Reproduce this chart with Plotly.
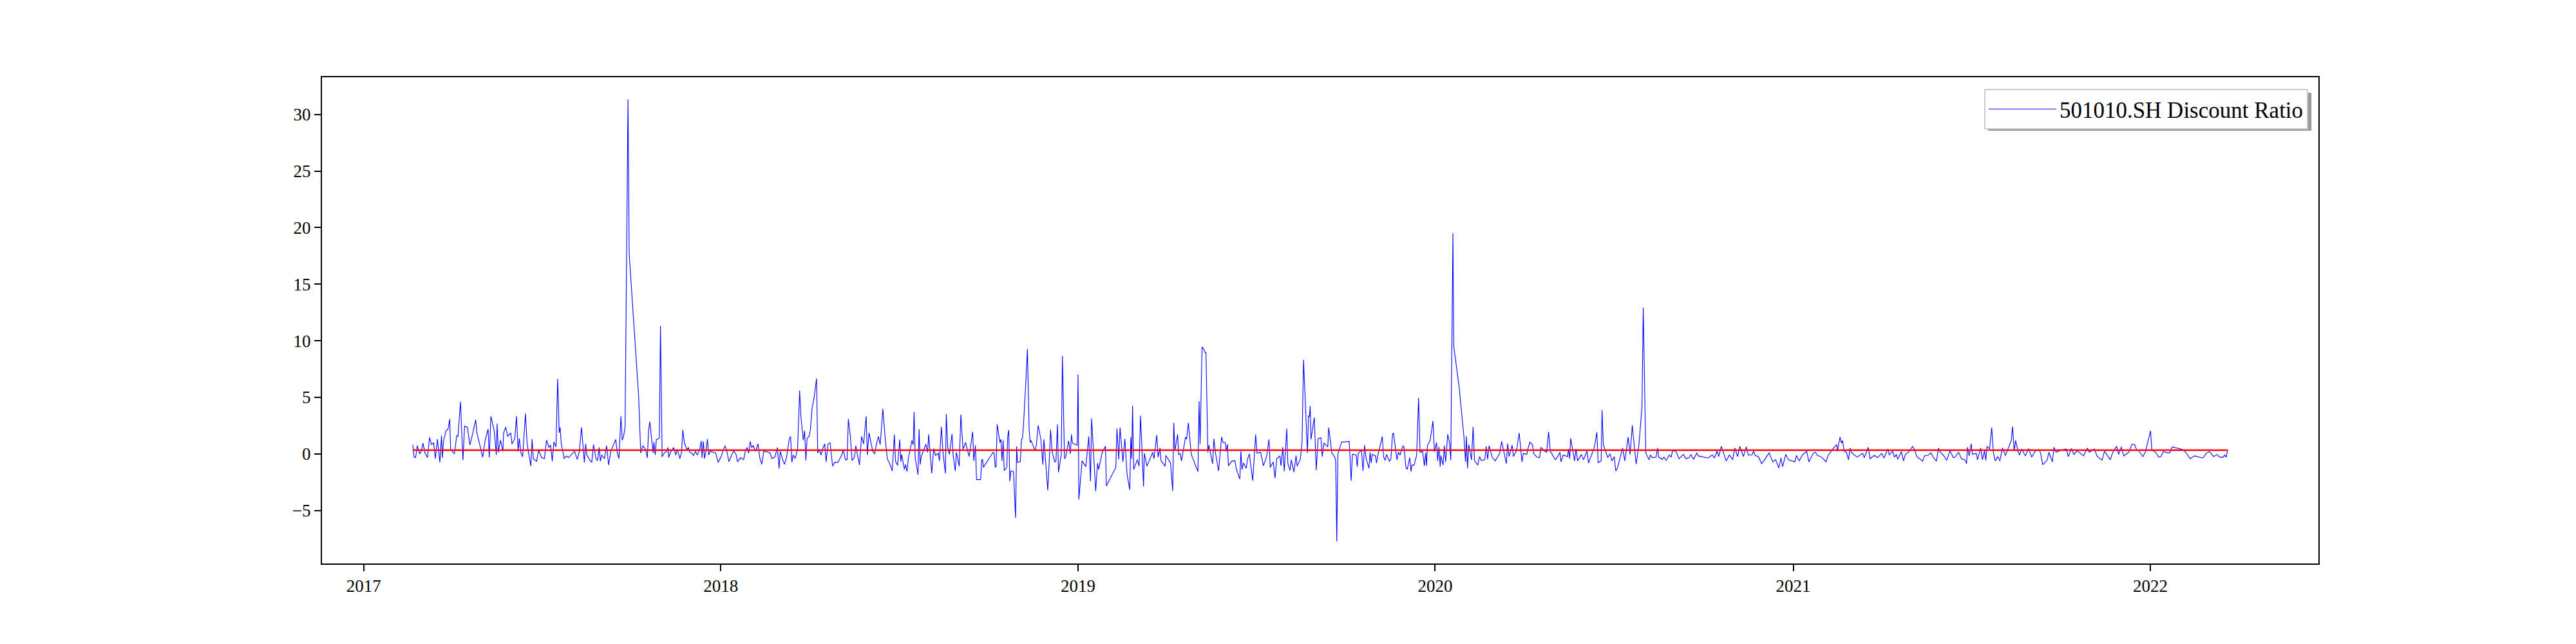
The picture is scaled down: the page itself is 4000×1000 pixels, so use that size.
import pandas as pd
import plotly.graph_objects as go

# 501010.SH discount ratio
# each point is (calendar days since 2017-01-01, ratio)
points_2017 = [
    (50.1, 0.82), (51.3, -0.26), (53.0, -0.33), (54.7, 0.72), (57.2, 0.0), (58.9, 0.23), (60.6, 0.95), (62.7, 0.07), (65.2, -0.33), (67.3, 1.44),
    (69.4, 0.82), (71.5, 0.98), (73.2, -0.42), (75.3, 1.31), (77.8, -0.75), (79.5, 1.60), (80.4, -0.36), (81.6, 1.14), (84.1, 2.03), (86.2, 2.19),
    (87.9, 3.07), (88.8, 0.39), (92.6, 0.0), (95.1, 1.63), (96.3, 1.54), (98.9, 4.61), (101.4, -0.56), (103.1, 2.45), (106.0, 2.35), (108.5, 0.78),
    (111.1, 1.70), (114.4, 3.01), (115.7, 1.86), (117.8, 1.05), (121.6, -0.29), (124.1, 1.21), (127.1, 2.19), (128.3, -0.33), (130.0, 3.33), (133.4, 2.03),
    (135.5, -0.10), (136.3, 2.67), (137.6, 0.13), (139.7, 1.21), (142.2, 0.23), (143.0, 1.86), (145.1, 2.35), (147.2, 1.54), (150.2, 1.86), (151.5, 0.88),
    (154.4, 1.37), (156.1, 3.33), (157.8, 0.23), (159.0, 1.37), (160.7, 0.07), (162.4, -0.26), (165.3, 3.56), (167.0, 0.88), (169.5, -0.42), (170.8, -1.08),
    (172.1, 1.31), (173.3, -0.42), (176.7, -0.65), (178.8, 0.33), (181.7, -0.33), (184.7, -0.42), (186.8, 1.21), (189.3, 0.56), (191.0, 0.78), (192.7, -0.65),
    (194.4, 1.05), (196.5, 0.62), (198.2, 6.63), (199.8, 1.86), (200.7, 2.35), (201.9, 0.88), (204.9, -0.42), (207.0, -0.20), (209.5, -0.33), (212.5, -0.03),
    (215.4, 0.23), (218.3, -0.49), (220.4, 0.23), (222.6, 2.35), (223.8, 0.88), (225.5, -0.75), (226.8, 0.88), (228.0, -0.10), (231.4, -0.59), (233.1, -0.75),
    (234.8, 0.82), (237.3, -0.42), (239.0, -0.59), (240.6, 0.56), (241.9, -0.65), (243.2, -0.10), (246.1, -0.42), (248.2, 0.72), (250.3, -0.98), (252.5, 0.23),
    (254.1, 0.56), (255.8, 0.88), (257.5, 1.27), (259.2, 0.07), (260.8, -0.42), (262.9, 3.33), (264.2, 1.21), (265.5, 1.54), (267.1, 2.35), (270.1, 31.34),
    (271.3, 17.71), (281.0, 5.06), (283.1, 0.07), (285.2, 0.72), (288.2, 0.39), (289.9, -0.36), (291.1, 2.03), (292.4, 2.84), (294.5, 1.21), (295.8, 0.07),
    (296.6, 1.05), (297.9, -0.10), (299.1, 1.27), (302.1, 1.37), (303.3, 11.31), (305.0, -0.26), (307.1, 0.07), (309.6, 0.23), (310.9, 0.56), (311.7, -0.33),
    (313.4, 0.13), (316.8, 0.56), (318.9, -0.10), (320.6, 0.39), (323.1, -0.42), (324.8, 0.13), (326.1, 2.12), (327.7, 0.98), (330.3, 0.39), (332.0, 0.56),
    (333.2, 0.13), (335.3, 0.07), (337.0, -0.16), (339.1, 0.23), (340.8, -0.10), (343.3, 0.33), (345.0, 1.14), (345.8, -0.36), (347.1, 1.11), (348.3, -0.42),
    (350.0, 0.39), (351.3, 1.31), (352.5, -0.10), (354.2, 0.23), (357.6, 0.13), (359.7, 0.07), (362.2, -0.75),
]

points_2018 = [
    (365.2, -0.26), (367.7, 0.39), (369.4, 0.72), (371.1, 0.23), (373.2, -0.69), (375.3, -0.26), (378.2, 0.29), (380.7, -0.10), (382.0, -0.69), (385.4, -0.33),
    (388.3, -0.52), (390.0, 0.23), (391.7, 0.56), (393.4, 0.07), (395.0, 1.11), (396.3, 0.56), (398.0, 0.72), (400.5, 0.23), (403.0, 0.88), (404.7, -0.33),
    (406.8, -0.92), (408.9, 0.23), (413.1, 0.16), (415.2, 0.07), (417.3, -0.42), (420.3, -0.26), (422.8, 0.56), (424.5, -1.31), (425.7, 0.23), (427.8, -0.42),
    (430.0, -0.92), (432.1, -0.33), (435.0, 1.37), (436.3, 1.54), (437.6, -0.75), (438.8, -0.10), (440.9, -0.42), (443.4, 0.39), (445.5, 5.59), (446.8, 3.30),
    (449.3, 1.21), (450.6, 2.03), (451.9, -0.59), (453.1, 1.37), (455.2, 1.54), (456.5, 2.12), (458.2, 3.99), (460.3, 4.97), (462.8, 6.66), (464.0, 0.07),
    (465.7, 0.39), (467.4, -0.10), (469.5, 0.56), (471.2, 0.88), (472.5, -0.69), (474.6, 0.88), (476.7, 0.98), (479.2, -1.08), (481.3, -0.75), (484.7, -0.75),
    (486.8, -0.42), (488.5, -0.10), (490.2, 0.33), (492.3, -0.52), (494.0, -0.52), (495.3, 3.07), (497.4, 1.54), (499.1, -0.59), (501.6, -0.26), (502.9, 0.72),
    (505.0, -0.26), (506.7, -0.98), (508.8, 1.54), (510.9, 0.88), (513.5, 3.33), (514.7, -0.10), (516.4, 1.86), (518.5, 1.05), (520.2, 0.23), (522.3, 0.0),
    (524.0, 0.88), (526.1, 1.54), (527.8, 0.82), (529.1, 2.19), (530.5, 3.99), (533.0, 1.37), (535.1, -0.42), (538.1, -0.98), (540.2, -1.50), (542.3, 1.70),
    (543.6, -0.69), (545.7, -1.01), (547.8, 1.27), (549.0, -0.69), (549.8, -0.05), (552.6, -1.38), (553.7, -0.94), (555.3, -1.57), (556.6, -0.42), (560.3, 1.19),
    (561.6, 0.81), (562.5, 3.70), (563.6, -0.33), (566.5, -1.85), (567.6, 2.18), (568.7, -0.94), (569.8, -0.24), (574.6, 0.85), (576.3, 0.14), (577.4, 1.72),
    (580.5, -1.72), (582.5, 0.47), (584.4, -0.14), (587.3, 0.05), (588.4, -0.62), (590.4, 2.39), (592.1, 0.05), (594.5, -1.72), (595.4, 3.51), (596.9, 0.58),
    (598.5, -0.05), (601.3, 1.76), (602.4, -0.14), (604.6, -1.51), (605.7, 0.14), (608.6, -1.09), (610.3, 3.47), (612.5, 0.43), (615.1, 1.00), (618.7, -0.24),
    (622.4, 1.95), (623.5, -0.62), (625.2, 0.75), (626.3, -2.27), (630.5, -2.27), (631.6, -0.56), (632.5, -0.48), (633.3, -1.19), (643.2, 0.14), (644.3, 0.05),
    (645.4, -1.19), (646.3, -1.13), (647.4, 2.61), (650.2, 1.00), (651.3, 1.28), (652.4, -0.62), (653.5, 1.19), (654.6, -1.47), (657.3, -1.19), (658.1, 1.48),
    (659.2, 2.10), (660.3, -2.42), (661.4, -1.51), (664.1, -1.57), (666.2, -5.65), (667.3, 0.66), (668.2, -0.75), (671.1, -0.67), (672.2, 1.28), (673.3, 1.38),
    (674.4, 2.71), (676.6, 6.13), (678.3, 9.26), (680.1, 2.14), (681.2, 1.00), (682.0, 1.19), (686.0, 0.29), (687.5, 0.81), (689.3, 2.52), (692.1, 1.28),
    (694.1, -0.94), (695.2, 1.28), (699.1, -3.22), (700.7, -0.52), (702.0, 2.14), (703.5, 0.24), (706.2, -0.71), (707.5, -0.62), (709.0, 2.61), (710.1, -1.62),
    (712.9, -0.05), (714.1, 8.66), (716.2, -0.42), (717.3, -0.33), (720.4, 1.15), (722.2, 0.01), (723.3, 1.70), (724.4, 0.94), (729.2, 0.77),
]

points_2019 = [
    (730.1, 7.02), (730.9, -4.04), (734.2, -0.62), (735.8, -0.86), (738.0, -1.13), (741.0, 1.53), (742.8, -2.42), (743.9, 3.13), (748.1, -3.30), (750.0, -0.81),
    (751.1, -1.38), (754.8, 0.14), (758.1, 0.67), (759.0, -2.84), (768.7, -1.19), (769.8, 2.24), (771.7, -0.47), (773.0, 2.33), (775.9, -0.71), (777.9, 1.34),
    (780.1, -1.76), (782.9, -3.18), (784.0, 1.48), (784.9, -0.43), (785.8, 4.27), (786.9, -1.38), (790.6, -0.52), (792.4, -1.09), (793.9, 3.37), (797.0, -2.89),
    (797.8, 0.05), (800.5, -1.09), (805.1, -0.14), (806.4, 0.14), (807.7, -0.43), (810.5, 1.66), (811.9, -0.29), (813.8, 0.52), (814.9, -0.62), (819.1, -1.09),
    (819.8, -0.14), (824.6, -0.81), (826.8, -3.27), (827.9, 2.75), (829.0, 0.28), (831.8, 1.72), (832.9, -0.05), (834.5, 0.01), (835.8, -0.62), (839.9, 1.48),
    (841.0, 1.29), (842.8, 2.75), (845.8, -0.05), (852.6, -1.57), (853.8, 4.66), (854.8, 0.87), (856.8, 9.45), (858.6, 9.26), (859.7, 8.97), (860.8, 8.97),
    (862.7, 0.14), (863.8, 0.77), (867.6, -0.87), (868.9, 1.34), (870.4, 0.14), (873.7, -1.51), (876.8, 1.48), (878.3, 1.00), (880.5, 1.00), (881.6, 0.20),
    (882.7, 0.85), (883.8, -1.05), (887.5, -0.62), (890.4, -0.62), (891.9, -1.38), (895.4, -2.23), (896.5, 0.24), (897.6, -1.38), (899.1, -0.81), (902.0, -1.28),
    (903.1, -0.52), (905.1, 0.01), (908.6, -2.38), (911.6, 1.70), (913.0, 0.05), (916.7, 0.14), (919.5, -1.05), (922.8, -0.24), (925.2, 1.28), (926.5, -1.19),
    (929.6, -0.71), (931.4, -2.14), (933.1, -0.43), (936.4, -0.18), (937.5, -1.05), (939.3, 0.58), (940.8, -1.53), (943.4, 2.23), (944.5, -0.87), (946.7, -1.47),
    (948.0, -0.52), (950.7, -1.62), (952.9, -0.14), (954.0, -1.09), (957.2, -0.48), (959.0, 1.00), (960.5, 8.31), (964.5, 0.09), (965.6, 3.37), (966.5, 3.28),
    (967.3, 4.23), (968.2, 1.28), (971.5, 3.22), (973.5, -1.43), (975.4, 1.34), (978.3, 1.42), (979.6, -0.24), (981.4, 0.96), (985.3, 0.62), (986.2, 2.33),
    (989.5, 0.05), (992.3, -0.24), (993.4, -0.67), (994.5, -7.74), (995.6, -0.04), (999.4, 1.04), (1007.2, 1.10), (1009.2, -2.38), (1010.5, -0.04), (1014.3, -0.10),
    (1015.4, -1.13), (1016.5, 0.05), (1019.7, 0.34), (1021.3, -1.51), (1023.0, 0.77), (1024.4, -0.37), (1027.4, -1.28), (1028.5, 0.14), (1029.6, -0.81), (1030.7, -0.05),
    (1034.0, -0.18), (1035.1, -0.81), (1036.2, -0.24), (1041.0, 1.53), (1042.3, -0.24), (1043.9, -0.58), (1045.4, -0.05), (1048.3, -0.67), (1049.8, -0.46), (1051.5, 1.76),
    (1052.4, 1.85), (1056.0, -0.52), (1057.5, 0.14), (1059.2, -0.10), (1062.1, 0.72), (1063.2, 0.58), (1065.1, -1.19), (1066.5, -1.38), (1069.1, -0.33), (1070.4, -1.57),
    (1071.3, -0.99), (1073.5, -0.99), (1076.1, -0.14), (1078.1, 4.95), (1079.6, 0.14), (1082.2, 0.24), (1084.0, -1.05), (1085.3, 0.09), (1086.2, -1.05), (1087.1, 0.72),
    (1089.9, 1.19), (1092.8, 2.90), (1094.3, 0.20),
]

points_2020 = [
    (1096.5, 1.00), (1097.6, -0.62), (1098.9, 0.62), (1100.2, -1.13), (1100.9, -0.14), (1103.1, -0.99), (1104.4, 0.72), (1105.7, -0.71), (1107.9, 1.72), (1109.7, 1.00),
    (1111.0, -0.56), (1113.2, 19.50), (1114.0, 9.54), (1119.5, 5.94), (1124.4, 1.57), (1126.1, -0.71), (1127.0, 1.57), (1128.1, -1.28), (1129.4, 0.81), (1132.2, -0.52),
    (1133.8, 2.37), (1135.3, -0.62), (1138.6, -0.99), (1140.4, -0.24), (1142.1, -0.58), (1145.8, -0.52), (1147.2, 0.66), (1148.7, -0.48), (1150.2, 0.72), (1153.5, -0.33),
    (1156.4, -0.62), (1160.8, 0.01), (1163.0, 1.10), (1165.6, 0.05), (1167.8, -0.87), (1169.1, 0.91), (1170.6, -0.24), (1173.7, 0.77), (1175.0, -0.24), (1178.3, 0.34),
    (1180.9, 1.85), (1183.8, -0.71), (1185.1, 0.05), (1188.6, -0.05), (1189.9, 0.47), (1191.9, 1.04), (1194.5, 0.81), (1195.6, 0.05), (1198.9, -0.29), (1201.8, -0.33),
    (1203.1, 0.58), (1207.2, 0.24), (1209.0, 0.14), (1211.0, 1.95), (1212.7, 0.24), (1217.8, -0.52), (1220.4, -0.24), (1222.6, 0.14), (1223.7, -0.71), (1225.9, -0.10),
    (1230.3, -0.24), (1231.4, 0.43), (1232.5, -0.43), (1233.6, 1.38), (1235.3, 0.43), (1237.5, -0.62), (1239.0, 0.43), (1240.6, -0.62), (1244.5, -0.05), (1246.7, -0.52),
    (1250.2, 0.24), (1251.8, -0.81), (1257.7, 0.56), (1260.3, 1.91), (1261.6, -0.77), (1264.7, -0.62), (1265.6, 3.89), (1266.9, 0.81), (1271.5, -0.33), (1273.7, 0.01),
    (1275.7, -0.62), (1278.1, -0.24), (1279.6, -1.51), (1281.4, -1.24), (1286.6, 0.52), (1288.8, -0.62), (1292.3, 1.47), (1294.3, -0.05), (1296.5, 2.52), (1300.4, -0.90),
    (1303.3, 0.81), (1306.4, 4.13), (1307.7, 12.93), (1310.3, 0.09), (1313.6, -0.52), (1315.1, -0.10), (1316.9, -0.33), (1320.8, -0.29), (1322.4, 0.52), (1323.5, -0.29),
    (1327.2, -0.48), (1329.0, -0.29), (1331.1, -0.58), (1334.4, -0.10), (1336.2, -0.29), (1337.7, 0.28), (1341.0, 0.24), (1344.3, -0.43), (1348.7, -0.05), (1351.3, -0.43),
    (1354.8, -0.33), (1356.4, -0.05), (1359.2, -0.48), (1362.5, 0.09), (1364.0, -0.18), (1373.9, -0.37), (1378.3, -0.10), (1380.5, -0.37), (1383.1, 0.24), (1384.9, -0.24),
    (1387.5, 0.66), (1390.4, -0.14), (1392.5, -0.62), (1395.8, -0.10), (1399.1, -0.52), (1401.3, 0.52), (1404.2, -0.24), (1406.4, 0.66), (1410.1, -0.24), (1413.0, 0.62),
    (1415.1, -0.10), (1418.9, -0.10), (1420.4, 0.24), (1422.2, -0.14), (1425.4, -0.24), (1428.7, -0.86), (1430.9, -0.62), (1436.4, 0.09), (1440.1, -0.71), (1443.0, -0.52),
    (1446.3, -1.24), (1448.5, -0.37), (1450.2, -1.13), (1453.3, -0.05), (1456.1, -0.52),
]

points_2021_2022 = [
    (1462.7, -0.71), (1464.3, -0.14), (1467.1, -0.62), (1470.4, -0.10), (1474.8, 0.24), (1477.0, -0.71), (1481.4, 0.05), (1483.6, 0.14), (1485.8, -0.14), (1490.1, -0.29),
    (1494.5, -0.71), (1496.7, -0.14), (1502.2, 0.52), (1505.5, 0.81), (1506.1, 0.24), (1508.8, 1.47), (1510.3, 0.96), (1511.2, 1.19), (1513.2, 0.24), (1515.4, 0.14),
    (1517.5, -0.52), (1519.1, 0.52), (1520.8, 0.09), (1524.1, -0.14), (1526.3, -0.29), (1531.8, 0.05), (1533.6, -0.33), (1537.7, 0.58), (1539.5, -0.43), (1543.9, -0.14),
    (1547.2, -0.33), (1551.5, 0.05), (1553.7, -0.37), (1557.7, 0.43), (1559.2, -0.10), (1562.5, 0.24), (1564.6, -0.29), (1566.4, -0.05), (1567.7, -0.48), (1571.6, 0.20),
    (1573.7, -0.62), (1575.6, -0.05), (1579.5, 0.20), (1582.9, 0.66), (1584.7, 0.43), (1587.3, -0.24), (1589.9, -0.43), (1593.3, -0.65), (1595.1, -0.18), (1599.1, -0.10),
    (1601.7, 0.09), (1604.3, -0.33), (1607.4, -0.65), (1609.5, 0.52), (1610.8, 0.20), (1614.7, -0.14), (1617.9, -0.58), (1621.2, 0.28), (1624.6, -0.33), (1626.5, -0.29),
    (1629.9, 0.14), (1633.0, -0.43), (1636.4, -0.52), (1638.2, -0.86), (1639.0, 0.58), (1640.8, -0.18), (1642.9, 0.90), (1644.2, -0.05), (1648.1, 0.05), (1649.4, -0.52),
    (1652.6, 0.52), (1654.4, -0.52), (1656.5, 0.28), (1657.8, -0.56), (1659.1, 0.66), (1661.7, 0.43), (1663.8, 2.33), (1665.6, 0.09), (1667.5, -0.62), (1670.1, -0.24),
    (1672.2, -0.62), (1674.8, 0.52), (1677.9, -0.14), (1681.3, 0.58), (1683.9, 1.19), (1685.2, 2.42), (1686.8, 0.24), (1688.3, 1.19), (1691.0, 0.14), (1692.3, -0.10),
    (1694.4, 0.43), (1698.3, -0.18), (1701.4, 0.47), (1704.8, -0.29), (1708.2, 0.24), (1712.1, 0.39), (1713.9, 0.05), (1716.0, -0.96), (1720.5, -0.56), (1722.3, 0.14),
    (1725.9, -0.71), (1727.5, 0.58), (1729.6, 0.14), (1734.8, 0.33), (1740.0, 0.43), (1742.1, -0.24), (1745.3, 0.47), (1747.9, -0.05), (1751.0, 0.28), (1757.8, -0.18),
    (1761.5, 0.52), (1763.5, 0.14), (1768.8, 0.43), (1771.4, -0.18), (1776.6, -0.56), (1779.2, 0.24), (1785.0, -0.52), (1787.6, 0.14), (1791.5, 0.66), (1793.6, -0.05),
    (1796.2, 0.62), (1798.8, -0.18), (1804.0, 0.14), (1807.2, 0.85), (1810.0, 0.81), (1811.8, 0.39), (1814.5, 0.24), (1818.4, -0.24), (1821.0, 0.18), (1826.2, 2.04),
    (1827.5, 0.33), (1831.4, 0.14), (1834.6, -0.29), (1836.7, -0.24), (1839.3, 0.20), (1843.2, 0.09), (1845.8, 0.09), (1848.4, 0.62), (1858.8, 0.39), (1862.2, 0.14),
    (1866.7, -0.43), (1871.1, -0.18), (1875.3, -0.29), (1877.1, -0.33), (1879.7, -0.37), (1883.1, 0.05), (1886.3, 0.20), (1890.7, -0.24), (1894.1, -0.05), (1896.7, -0.29),
    (1900.6, -0.29), (1901.9, -0.10), (1903.5, -0.29), (1905.0, 0.33),
]

mean_ratio = 0.33  # the red reference line
series_name = "501010.SH Discount Ratio"

origin = pd.Timestamp("2017-01-01")
df = pd.DataFrame(points_2017 + points_2018 + points_2019 + points_2020 + points_2021_2022,
                  columns=["day", "ratio"])
df["date"] = origin + pd.to_timedelta(df["day"], unit="D")

# pad the axes 5% like matplotlib does
x_pad = (df["date"].max() - df["date"].min()) * 0.05
y_pad = (df["ratio"].max() - df["ratio"].min()) * 0.05

fig = go.Figure()
fig.add_trace(go.Scatter(
    x=df["date"], y=df["ratio"],
    mode="lines",
    line=dict(color="blue", width=1.1),
    name=series_name
))
fig.add_trace(go.Scatter(
    x=[df["date"].min(), df["date"].max()], y=[mean_ratio, mean_ratio],
    mode="lines",
    line=dict(color="red", width=2.6),
    showlegend=False
))

axis_style = dict(
    showline=True, linecolor="black", linewidth=2, mirror=True,
    ticks="outside", ticklen=10, tickwidth=2, tickcolor="black",
    showgrid=False, zeroline=False
)

# the page body adds an 8px margin, so the figure is 8px smaller than the window
fig.update_layout(
    width=3992, height=992,
    margin=dict(l=492, r=400, t=112, b=125, autoexpand=False),
    plot_bgcolor="white",
    paper_bgcolor="white",
    font=dict(family="Liberation Serif, Times New Roman, serif", size=27, color="black"),
    xaxis=dict(
        type="date",
        range=[df["date"].min() - x_pad, df["date"].max() + x_pad],
        tick0="2017-01-01", dtick="M12", tickformat="%Y",
        **axis_style
    ),
    yaxis=dict(
        range=[df["ratio"].min() - y_pad, df["ratio"].max() + y_pad],
        tick0=0, dtick=5,
        **axis_style
    ),
    legend=dict(
        x=0.9948, y=0.9762, xanchor="right", yanchor="top",
        bgcolor="white", bordercolor="#cccccc", borderwidth=2,
        itemwidth=105,
        font=dict(size=35)
    ),
    # drop shadow behind the legend box
    shapes=[dict(
        type="rect", xref="paper", yref="paper",
        x0=0.8345, x1=0.9965, y0=0.8901, y1=0.9682,
        fillcolor="#999999", line=dict(width=0), layer="above"
    )]
)

fig.write_html("out.html")
